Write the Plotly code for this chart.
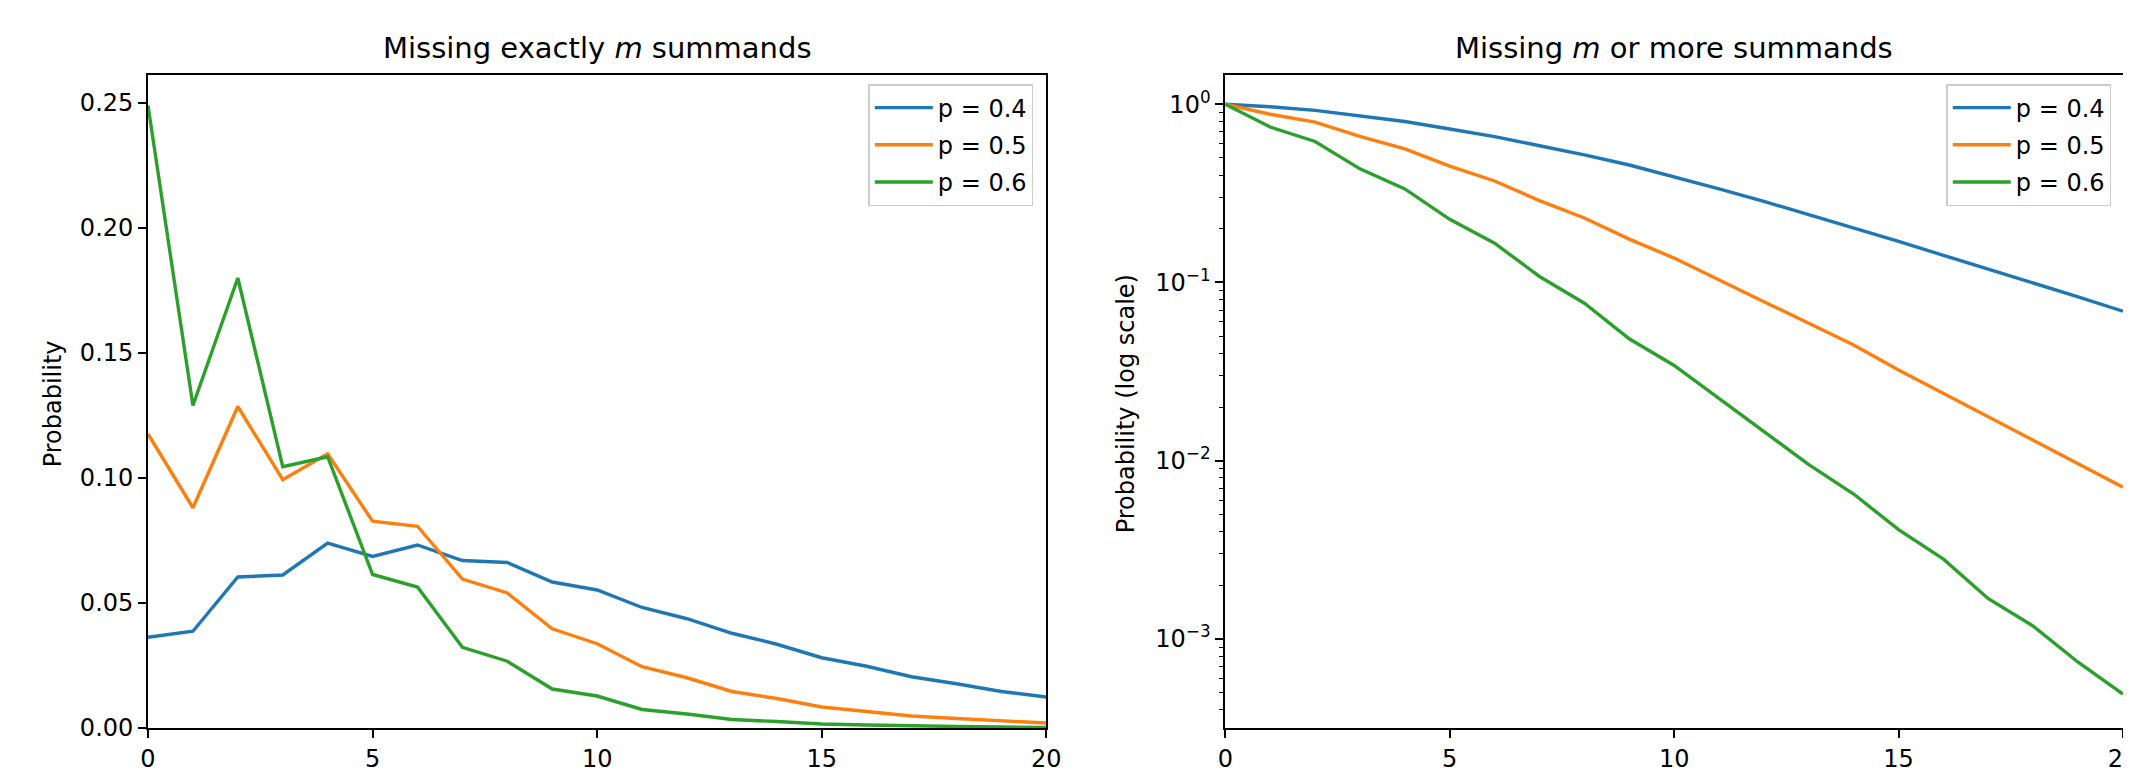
import plotly.graph_objects as go

# ---------------- data ----------------
m_values = list(range(21))
series_labels = ["p = 0.4", "p = 0.5", "p = 0.6"]

# Left panel: probability of missing exactly m summands
exact_p04 = [0.0363, 0.0387, 0.0604, 0.0612, 0.0740, 0.0686, 0.0732, 0.0670, 0.0662, 0.0584,
             0.0552, 0.0482, 0.0437, 0.0379, 0.0335, 0.0281, 0.0247, 0.0205, 0.0177, 0.0146, 0.0124]
exact_p05 = [0.1176, 0.0881, 0.1286, 0.0993, 0.1097, 0.0827, 0.0807, 0.0596, 0.0540, 0.0397,
             0.0337, 0.0245, 0.0201, 0.0146, 0.0118, 0.0084, 0.0066, 0.0048, 0.0038, 0.0028, 0.0020]
exact_p06 = [0.2490, 0.1290, 0.1800, 0.1045, 0.1085, 0.0614, 0.0564, 0.0323, 0.0267, 0.0156,
             0.0128, 0.0074, 0.0056, 0.0034, 0.0026, 0.0016, 0.0012, 0.0008, 0.0006, 0.0004, 0.0002]

# Right panel: probability of missing m or more summands (log scale)
tail_p04 = [1.0, 0.968, 0.923, 0.862, 0.800, 0.726, 0.658, 0.585, 0.520, 0.456,
            0.393, 0.335, 0.285, 0.240, 0.203, 0.170, 0.142, 0.119, 0.099, 0.083, 0.069]
tail_p05 = [1.0, 0.879, 0.793, 0.660, 0.562, 0.450, 0.371, 0.288, 0.230, 0.175,
            0.137, 0.103, 0.078, 0.059, 0.0446, 0.0323, 0.0239, 0.0177, 0.0131, 0.0097, 0.0071]
tail_p06 = [1.0, 0.745, 0.618, 0.434, 0.335, 0.226, 0.166, 0.108, 0.0765, 0.0483,
            0.0342, 0.0224, 0.0145, 0.0095, 0.0065, 0.0041, 0.0028, 0.00168, 0.00118, 0.00074, 0.00049]

x_ticks = [0, 5, 10, 15, 20]
left_y_ticks = [0.00, 0.05, 0.10, 0.15, 0.20, 0.25]
log_major_ticks = [1e-3, 1e-2, 1e-1, 1e0]
log_major_labels = ["10<sup>−3</sup>", "10<sup>−2</sup>", "10<sup>−1</sup>", "10<sup>0</sup>"]

titles = ["Missing exactly <i>m</i> summands", "Missing <i>m</i> or more summands"]
y_titles = ["Probability", "Probability (log scale)"]

# ---------------- styling ----------------
colors = ["#1f77b4", "#ff7f0e", "#2ca02c"]
FONT = "DejaVu Sans"
OFF = 8                      # page body margin of the html page
PAGE_W, PAGE_H = 2131, 780
W, H = PAGE_W - OFF, PAGE_H - OFF
# plot-area edges wanted on the page (px)
P_LEFT, P_RIGHT, P_TOP, P_BOTTOM = 147.7, 2122.7, 75, 728
ML = P_LEFT - OFF
MR = W - (P_RIGHT - OFF)
MT = P_TOP - OFF
MB = H - (P_BOTTOM - OFF)
pw = W - ML - MR
ph = H - MT - MB


def px_x(X):
    return (X - P_LEFT) / pw


def px_y(Y):
    return 1 - (Y - P_TOP) / ph


LINE_W = 3.4

exact_series = [exact_p04, exact_p05, exact_p06]
tail_series = [tail_p04, tail_p05, tail_p06]

fig = go.Figure()
for i, (lbl, ys, c) in enumerate(zip(series_labels, exact_series, colors)):
    fig.add_trace(go.Scatter(x=m_values, y=ys, mode="lines", name=lbl,
                             line=dict(color=c, width=LINE_W),
                             legendgroup=f"a{i}",
                             xaxis="x", yaxis="y", legend="legend"))
for i, (lbl, ys, c) in enumerate(zip(series_labels, tail_series, colors)):
    fig.add_trace(go.Scatter(x=m_values, y=ys, mode="lines", name=lbl,
                             line=dict(color=c, width=LINE_W),
                             legendgroup=f"b{i}",
                             xaxis="x2", yaxis="y2", legend="legend2"))

# minor tick positions for the log axis (2..9 x 10^k)
minor_vals = [d * 10.0 ** k for k in range(-4, 0) for d in range(2, 10)]
minor_vals = [v for v in minor_vals if v > 3.2e-4]

left_dom = [0, px_x(1046)]
right_dom = [px_x(1225), 1]

axis_common = dict(showline=True, linecolor="black", linewidth=1.8, mirror=True,
                   ticks="outside", ticklen=8, tickwidth=1.8, tickcolor="black",
                   showgrid=False, zeroline=False, automargin=False,
                   ticklabeloverflow="allow",
                   tickfont=dict(family=FONT, size=24, color="black"))

legend_common = dict(xanchor="right", yanchor="top",
                     bgcolor="rgba(255,255,255,0.8)", bordercolor="#cccccc", borderwidth=1.5,
                     font=dict(family=FONT, size=24, color="black"), itemwidth=58,
                     tracegroupgap=3, traceorder="grouped")

fig.update_layout(
    width=W, height=H,
    margin=dict(l=ML, r=MR, t=MT, b=MB, autoexpand=False),
    paper_bgcolor="white", plot_bgcolor="white",
    font=dict(family=FONT, size=24, color="black"),
    xaxis=dict(domain=left_dom, range=[0, 20], tickvals=x_ticks, anchor="y", **axis_common),
    yaxis=dict(domain=[0, 1], range=[0, 0.2612], tickvals=left_y_ticks, tickformat=".2f",
               anchor="x", **axis_common),
    xaxis2=dict(domain=right_dom, range=[0, 20], tickvals=x_ticks, anchor="y2", **axis_common),
    yaxis2=dict(domain=[0, 1], type="log", range=[-3.50, 0.164],
                tickvals=log_major_ticks, ticktext=log_major_labels, anchor="x2",
                minor=dict(tickvals=minor_vals, ticks="outside", ticklen=4.8,
                           tickwidth=1.4, tickcolor="black", showgrid=False),
                **axis_common),
    legend=dict(x=px_x(1033), y=px_y(84), **legend_common),
    legend2=dict(x=px_x(2111), y=px_y(84), **legend_common),
    showlegend=True,
)

left_center = (left_dom[0] + left_dom[1]) / 2
right_center = (right_dom[0] + right_dom[1]) / 2
annos = [
    dict(text=titles[0], x=left_center, y=px_y(48), xref="paper", yref="paper",
         xanchor="center", yanchor="middle", showarrow=False,
         font=dict(family=FONT, size=29, color="black")),
    dict(text=titles[1], x=right_center, y=px_y(48), xref="paper", yref="paper",
         xanchor="center", yanchor="middle", showarrow=False,
         font=dict(family=FONT, size=29, color="black")),
    dict(text=y_titles[0], x=px_x(53), y=px_y(404), xref="paper", yref="paper",
         xanchor="center", yanchor="middle", textangle=-90, showarrow=False,
         font=dict(family=FONT, size=24, color="black")),
    dict(text=y_titles[1], x=px_x(1126), y=px_y(404), xref="paper", yref="paper",
         xanchor="center", yanchor="middle", textangle=-90, showarrow=False,
         font=dict(family=FONT, size=24, color="black")),
]
fig.update_layout(annotations=annos)

fig.write_html("out.html")
